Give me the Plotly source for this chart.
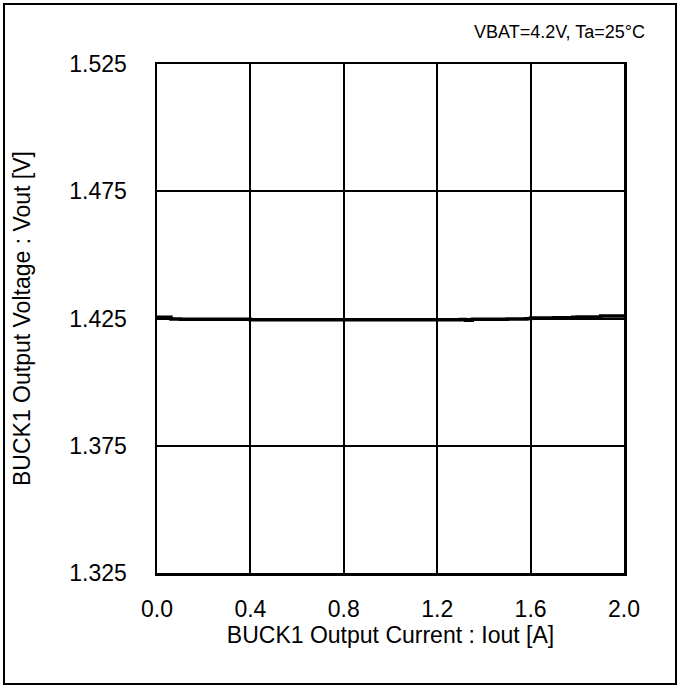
import plotly.graph_objects as go

iout = [0.00, 0.04, 0.06, 0.10, 0.20, 0.30, 0.40, 0.50, 0.60, 0.70, 0.80, 0.90, 1.00, 1.10, 1.20,
        1.30, 1.32, 1.35, 1.40, 1.50, 1.58, 1.60, 1.70, 1.78, 1.80, 1.88, 1.90, 2.00]
vout = [1.4255, 1.4255, 1.4248, 1.4247, 1.4247, 1.4247, 1.4245, 1.4245, 1.4245, 1.4245, 1.4245, 1.4245, 1.4245, 1.4245, 1.4245,
        1.4246, 1.4243, 1.4247, 1.4247, 1.4248, 1.4249, 1.4252, 1.4253, 1.4255, 1.4256, 1.4256, 1.4260, 1.4260]

x_ticks = [0.0, 0.4, 0.8, 1.2, 1.6, 2.0]
x_tick_labels = ["0.0", "0.4", "0.8", "1.2", "1.6", "2.0"]
y_ticks = [1.325, 1.375, 1.425, 1.475, 1.525]
y_tick_labels = ["1.325", "1.375", "1.425", "1.475", "1.525"]

FONT = "Liberation Sans, Arial, sans-serif"

fig = go.Figure()
fig.add_trace(go.Scatter(x=iout, y=vout, mode="lines",
                         line=dict(color="black", width=3.5), line_shape="hv",
                         showlegend=False, hoverinfo="skip"))

L, R, T, B = 157, 55, 64, 113
W, H = 679, 686
pw = W - L - R
ph = H - T - B

def px_to_paper_x(px):
    return (px - L) / pw

def px_to_paper_y(py):
    return (H - B - py) / ph

fig.update_layout(
    width=W, height=H,
    margin=dict(l=L, r=R, t=T, b=B, pad=0),
    paper_bgcolor="white", plot_bgcolor="white",
    font=dict(family=FONT, color="black", size=23),
    xaxis=dict(range=[0, 2.0], tickvals=x_ticks, ticktext=x_tick_labels,
               showgrid=True, gridcolor="black", gridwidth=2,
               showline=True, linecolor="black", linewidth=2.5, mirror=True,
               zeroline=False, ticks="", ticklabelstandoff=14,
               tickfont=dict(size=23, family=FONT),
               title=dict(text="BUCK1 Output Current : Iout [A]", font=dict(size=23, family=FONT), standoff=2)),
    yaxis=dict(range=[1.325, 1.525], tickvals=y_ticks, ticktext=y_tick_labels,
               showgrid=True, gridcolor="black", gridwidth=2,
               showline=True, linecolor="black", linewidth=2.5, mirror=True,
               zeroline=False, ticks="", ticklabelstandoff=23,
               tickfont=dict(size=23, family=FONT),
               title=dict(text="BUCK1 Output Voltage : Vout [V]", font=dict(size=23, family=FONT), standoff=33)),
    shapes=[dict(type="rect", xref="paper", yref="paper",
                 x0=px_to_paper_x(4), x1=px_to_paper_x(676),
                 y0=px_to_paper_y(684), y1=px_to_paper_y(4),
                 line=dict(color="black", width=2), fillcolor="rgba(0,0,0,0)", layer="below")],
    annotations=[dict(text="VBAT=4.2V, Ta=25°C", xref="paper", yref="paper",
                      x=px_to_paper_x(647), y=px_to_paper_y(32), xanchor="right", yanchor="middle",
                      showarrow=False, font=dict(size=18, family=FONT, color="black"))],
)

fig.write_html("out.html", config={"displayModeBar": False, "staticPlot": True},
               post_script="document.body.style.margin='0';document.body.style.overflow='hidden';")
